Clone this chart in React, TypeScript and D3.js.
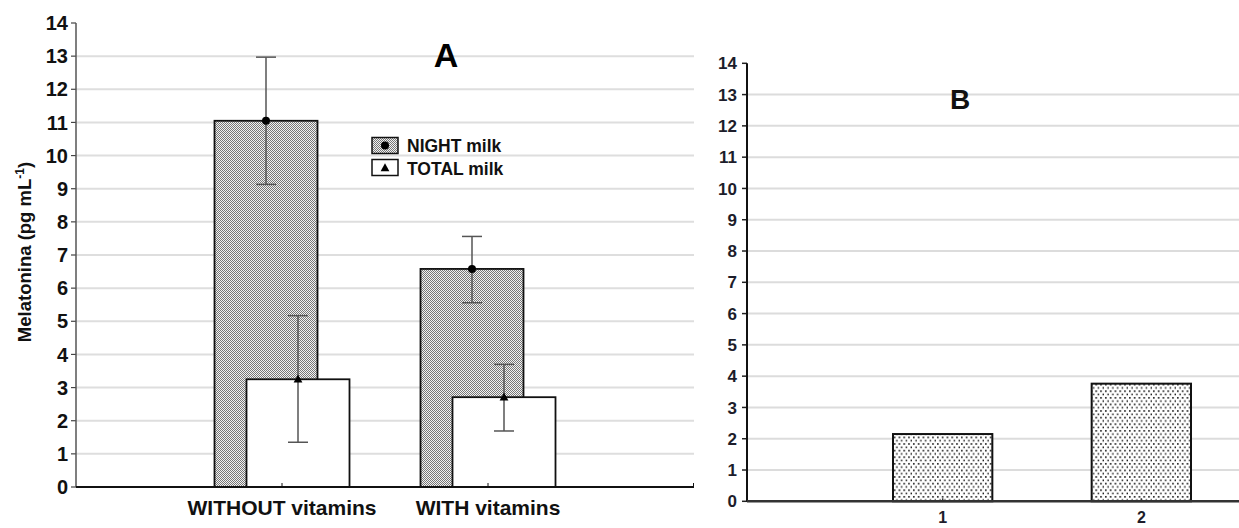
import React from 'react';
import * as d3 from 'd3';

// Panel A: melatonin by vitamin group
const categoriesA = ['WITHOUT vitamins', 'WITH vitamins'];
const nightMean = [11.05, 6.58];
const nightLow = [9.13, 5.56];
const nightHigh = [12.97, 7.56];
const totalMean = [3.25, 2.71];
const totalLow = [1.35, 1.69];
const totalHigh = [5.17, 3.7];

// Panel B
const categoriesB = ['1', '2'];
const valuesB = [2.15, 3.76];

const yTicks = d3.range(0, 15);
const FONT = '"Liberation Sans", Arial, Helvetica, sans-serif';

const App = () => {
  const width = 1239;
  const height = 528;

  // ---- panel A scales
  const axA = 76;
  const xA = d3.scalePoint<string>().domain(categoriesA).range([axA, 694]).padding(1);
  const yA = d3.scaleLinear().domain([0, 14]).range([487, 23]);
  const barWA = xA.step() / 2;
  const shift = 16;

  // ---- panel B scales
  const axB = 747;
  const xB = d3.scalePoint<string>().domain(categoriesB).range([744, 1340]).padding(1);
  const yB = d3.scaleLinear().domain([0, 14]).range([501.3, 63.3]);
  const barWB = xB.step() / 2;

  const errColor = '#555';

  const tri = (cx: number, cy: number, s: number) =>
    `M${cx},${cy - s * 0.6} L${cx + s * 0.55},${cy + s * 0.4} L${cx - s * 0.55},${cy + s * 0.4} Z`;

  return (
    <svg
      width={width}
      height={height}
      style={{ position: 'absolute', left: 0, top: 0, background: '#fff' }}
      fontFamily={FONT}
    >
      <defs>
        <pattern id="checker" width="2" height="2" patternUnits="userSpaceOnUse">
          <rect width="2" height="2" fill="#f2f2f2" />
          <rect x="0" y="0" width="1" height="1" fill="#777" />
          <rect x="1" y="1" width="1" height="1" fill="#777" />
        </pattern>
        <pattern id="dots" width="4.8" height="6.6" patternUnits="userSpaceOnUse">
          <rect width="4.8" height="6.6" fill="#fff" />
          <rect x="1" y="1" width="1.6" height="1.6" fill="#111" />
          <rect x="3.4" y="4.3" width="1.6" height="1.6" fill="#111" />
        </pattern>
      </defs>

      {/* ================= PANEL A ================= */}
      <g>
        {yTicks.filter((t) => t > 0 && t < 14).map((t) => (
          <line key={t} x1={axA} x2={694} y1={yA(t)} y2={yA(t)} stroke="#dedede" strokeWidth={2} />
        ))}
        {yTicks.map((t) => (
          <g key={t}>
            <line x1={axA - 5} x2={axA} y1={yA(t)} y2={yA(t)} stroke="#444" strokeWidth={1.2} />
            <text x={68} y={yA(t)} dy="0.36em" textAnchor="end" fontSize={20} fontWeight="bold" fill="#111">
              {t}
            </text>
          </g>
        ))}
        <line x1={axA} x2={axA} y1={yA(14)} y2={yA(0)} stroke="#555" strokeWidth={1.5} />

        {/* bars */}
        {categoriesA.map((c, i) => {
          const cx = xA(c)! - shift;
          return (
            <rect
              key={'n' + c}
              x={cx - barWA / 2}
              y={yA(nightMean[i])}
              width={barWA}
              height={yA(0) - yA(nightMean[i])}
              fill="url(#checker)"
              stroke="#111"
              strokeWidth={1.8}
            />
          );
        })}
        {categoriesA.map((c, i) => {
          const cx = xA(c)! + shift;
          return (
            <rect
              key={'t' + c}
              x={cx - barWA / 2}
              y={yA(totalMean[i])}
              width={barWA}
              height={yA(0) - yA(totalMean[i])}
              fill="#fff"
              stroke="#111"
              strokeWidth={1.8}
            />
          );
        })}

        {/* error bars */}
        {categoriesA.map((c, i) => {
          const cn = xA(c)! - shift;
          const ct = xA(c)! + shift;
          return (
            <g key={'e' + c}>
              <line x1={cn} x2={cn} y1={yA(nightHigh[i])} y2={yA(nightLow[i])} stroke={errColor} strokeWidth={1.5} />
              <line x1={cn - 10} x2={cn + 10} y1={yA(nightHigh[i])} y2={yA(nightHigh[i])} stroke={errColor} strokeWidth={1.5} />
              <line x1={cn - 10} x2={cn + 10} y1={yA(nightLow[i])} y2={yA(nightLow[i])} stroke={errColor} strokeWidth={1.5} />
              <circle cx={cn} cy={yA(nightMean[i])} r={4} fill="#000" />
              <line x1={ct} x2={ct} y1={yA(totalHigh[i])} y2={yA(totalLow[i])} stroke={errColor} strokeWidth={1.5} />
              <line x1={ct - 10} x2={ct + 10} y1={yA(totalHigh[i])} y2={yA(totalHigh[i])} stroke={errColor} strokeWidth={1.5} />
              <line x1={ct - 10} x2={ct + 10} y1={yA(totalLow[i])} y2={yA(totalLow[i])} stroke={errColor} strokeWidth={1.5} />
              <path d={tri(ct, yA(totalMean[i]), 8)} fill="#000" />
            </g>
          );
        })}

        {/* x axis */}
        <line x1={axA} x2={694} y1={yA(0)} y2={yA(0)} stroke="#111" strokeWidth={2} />
        {categoriesA.map((c) => (
          <line key={'xt' + c} x1={xA(c)!} x2={xA(c)!} y1={yA(0)} y2={yA(0) - 4} stroke="#111" strokeWidth={1} />
        ))}
        <line x1={693.5} x2={693.5} y1={yA(0)} y2={yA(0) - 4} stroke="#111" strokeWidth={1} />
        {categoriesA.map((c) => (
          <text key={'xl' + c} x={xA(c)!} y={515} textAnchor="middle" fontSize={21} fontWeight="bold" fill="#111">
            {c}
          </text>
        ))}

        {/* y label */}
        <text
          transform={`translate(31,252) rotate(-90)`}
          textAnchor="middle"
          fontSize={18.5}
          fontWeight="bold"
          fill="#111"
        >
          Melatonina (pg mL
          <tspan fontSize={12} dy={-7}>-1</tspan>
          <tspan dy={7}>)</tspan>
        </text>

        {/* title */}
        <text x={446} y={67} textAnchor="middle" fontSize={34} fontWeight="bold" fill="#000">
          A
        </text>

        {/* legend */}
        <g>
          <rect x={372} y={137.5} width={26} height={16} fill="url(#checker)" stroke="#111" strokeWidth={1.5} />
          <circle cx={385} cy={145.5} r={4} fill="#000" />
          <text x={407} y={152} fontSize={17.5} fontWeight="bold" fill="#111">NIGHT milk</text>
          <rect x={372} y={159.5} width={26} height={16} fill="#fff" stroke="#111" strokeWidth={1.5} />
          <path d={tri(385, 168, 8)} fill="#000" />
          <text x={407} y={174.5} fontSize={17.5} fontWeight="bold" fill="#111">TOTAL milk</text>
        </g>
      </g>

      {/* ================= PANEL B ================= */}
      <g>
        {yTicks.filter((t) => t > 0 && t < 14).map((t) => (
          <line key={t} x1={axB} x2={width} y1={yB(t)} y2={yB(t)} stroke="#dcdcdc" strokeWidth={2} />
        ))}
        {yTicks.map((t) => (
          <g key={t}>
            <line x1={axB - 5} x2={axB} y1={yB(t)} y2={yB(t)} stroke="#222" strokeWidth={1.5} />
            <text
              x={737}
              y={yB(t)}
              dy="0.36em"
              textAnchor="end"
              fontSize={17}
              fontWeight="bold"
              fill="#1d1d2b"
            >
              {t}
            </text>
          </g>
        ))}

        {categoriesB.map((c, i) => (
          <rect
            key={'b' + c}
            x={xB(c)! - barWB / 2}
            y={yB(valuesB[i])}
            width={barWB}
            height={yB(0) - yB(valuesB[i])}
            fill="url(#dots)"
            stroke="#111"
            strokeWidth={2}
          />
        ))}

        <line x1={axB} x2={axB} y1={yB(14)} y2={yB(0)} stroke="#111" strokeWidth={2} />
        <line x1={axB} x2={width} y1={yB(0)} y2={yB(0)} stroke="#333" strokeWidth={2.5} />
        {categoriesB.map((c) => (
          <line key={'bt' + c} x1={xB(c)!} x2={xB(c)!} y1={yB(0)} y2={yB(0) - 3} stroke="#333" strokeWidth={1.5} />
        ))}
        {categoriesB.map((c) => (
          <text key={'bl' + c} x={xB(c)!} y={523} textAnchor="middle" fontSize={16} fontWeight="bold" fill="#1d1d2b">
            {c}
          </text>
        ))}

        <text x={960} y={109} textAnchor="middle" fontSize={28} fontWeight="bold" fill="#111">
          B
        </text>
      </g>
    </svg>
  );
};

export default App;
